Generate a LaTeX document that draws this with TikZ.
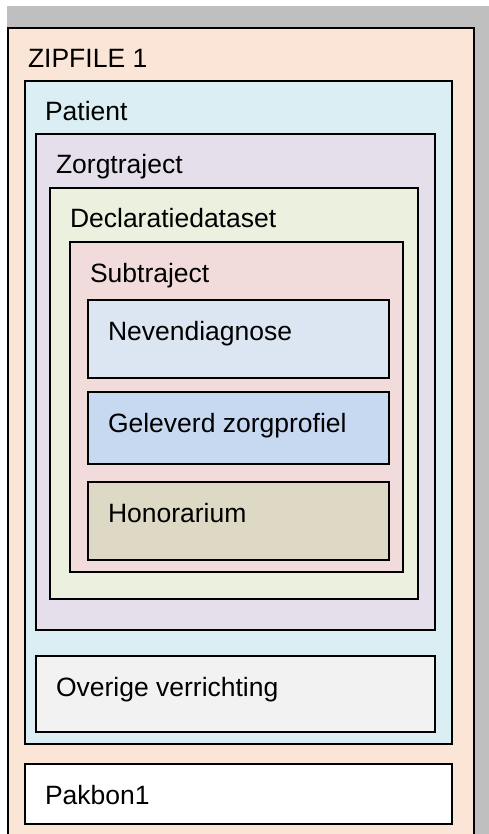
\documentclass[tikz,border=0pt]{standalone}
\usepackage{fontspec}
\setmainfont{Liberation Sans}
\definecolor{cgray}{HTML}{BFBFBF}
\definecolor{czip}{HTML}{FBE5D6}
\definecolor{cpat}{HTML}{DAEEF3}
\definecolor{czorg}{HTML}{E5DFEC}
\definecolor{cdecl}{HTML}{EBF1DE}
\definecolor{csub}{HTML}{F2DCDB}
\definecolor{cnev}{HTML}{DCE6F2}
\definecolor{cgel}{HTML}{C6D9F1}
\definecolor{chon}{HTML}{DDD9C4}
\definecolor{cove}{HTML}{F2F2F2}
\tikzset{
  box/.style={draw=black, line width=2pt, rectangle, inner sep=0pt, outer sep=0pt, anchor=north west},
  lbl/.style={inner sep=0pt, outer sep=0pt, anchor=base west, font=\fontsize{26.5}{30}\selectfont}
}
\newcommand{\mybox}[7]{%
  \node[box, fill=#6, minimum width={(#4-#2)*1pt}, minimum height={(#5-#3)*1pt}] (#1) at (#2,#3) {};
  \node[lbl] (#1T) at ([shift={(20pt,-40pt)}]#1.north west) {#7};
}
\begin{document}
\begin{tikzpicture}[x=1pt,y=-1pt]
\useasboundingbox (0,0) rectangle (489,834);
\clip (0,0) rectangle (489,834);
\fill[cgray] (7,6) rectangle (495,840);
\mybox{zip}{8}{28}{474}{850}{czip}{ZIPFILE 1}
\mybox{pat}{25}{81}{452}{744}{cpat}{Patient}
\mybox{zorg}{36}{134}{435}{630}{czorg}{Zorgtraject}
\mybox{decl}{50}{188}{418}{599}{cdecl}{Declaratiedataset}
\mybox{sub}{70}{242}{403}{572}{csub}{Subtraject}
\mybox{nev}{88}{300}{389}{378}{cnev}{Nevendiagnose}
\mybox{gel}{88}{392}{389}{464}{cgel}{Geleverd zorgprofiel}
\mybox{hon}{88}{482}{389}{560}{chon}{Honorarium}
\mybox{ove}{36}{656}{435}{732}{cove}{Overige verrichting}
\mybox{pak}{25}{764}{452}{824}{white}{Pakbon1}
\end{tikzpicture}
\end{document}
